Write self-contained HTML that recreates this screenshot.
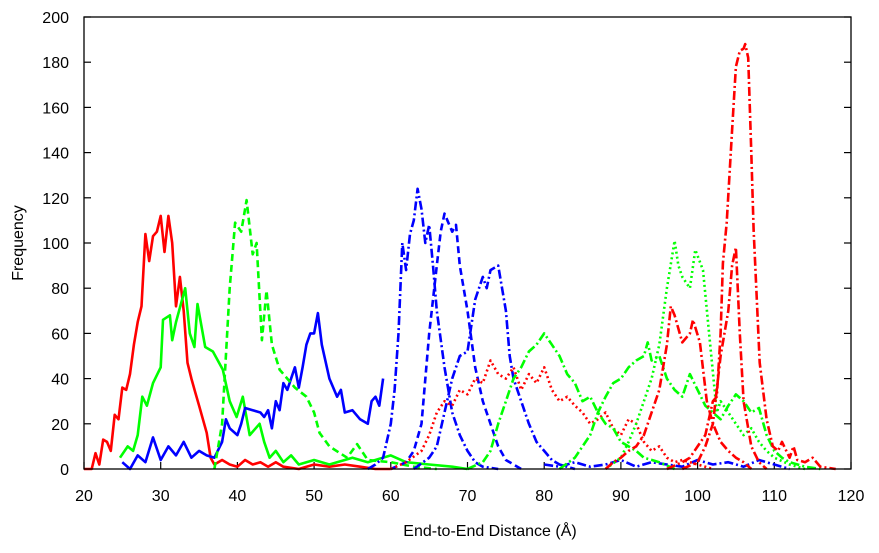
<!DOCTYPE html>
<html><head><meta charset="utf-8"><style>
html,body{margin:0;padding:0;background:#fff;}
svg text{font-family:"Liberation Sans",sans-serif;fill:#000;}
</style></head><body>
<svg id="chart" width="879" height="548" viewBox="0 0 879 548" xmlns="http://www.w3.org/2000/svg">
<g id="axes"></g>
<g id="series"></g>
<rect x="84" y="17" width="767" height="452" fill="none" stroke="#000" stroke-width="1.3"/>
<text x="490" y="536" font-size="16" text-anchor="middle">End-to-End Distance (Å)</text>
<text x="23" y="243" font-size="16" text-anchor="middle" transform="rotate(-90 23 243)">Frequency</text>
</svg>
<script>
const xTicks = [20,30,40,50,60,70,80,90,100,110,120];
const yTicks = [0,20,40,60,80,100,120,140,160,180,200];

const redSolidX = [20,21,21.5,22,22.5,23,23.5,24,24.5,25,25.5,26,26.5,27,27.5,28,28.5,29,29.5,30,30.5,31,31.5,32,32.5,33,33.5,34,34.5,35,36,36.5,37,38,39,40,41,42,43,44,45,46,48,50,52,54,56,58,60];
const redSolidY = [0,0,7,2,13,12,8,24,22,36,35,42,55,65,72,104,92,103,105,112,96,112,100,72,85,70,47,40,34,28,16,5,2,4,2,1,4,2,3,1,3,1,0,2,1,2,1,0,0];
const greenSolidX = [24.7,25.7,26.4,27,27.6,28.2,29,30,30.3,31.2,31.5,32,33.2,33.8,34.4,34.8,35.8,36.8,38.1,39,39.9,40.7,41.6,42.9,43.5,44.2,45,46,47,48,50,52,55,57,60,62,65,68,70];
const greenSolidY = [5,10,8,15,32,28,38,45,66,68,57,65,80,60,54,73,54,52,44,30,23,32,15,20,12,5,8,3,6,2,4,2,5,3,6,3,2,1,0];
const blueSolidX = [25,26,27,28,29,30,31,32,33,34,35,36,37,38,38.5,39,40,40.5,41,42,43,43.5,44,44.5,45,45.5,46,46.5,47,47.5,48,48.5,49,49.5,50,50.5,51,52,53,53.5,54,55,56,57,57.5,58,58.5,59];
const blueSolidY = [3,0,6,3,14,4,10,6,12,5,8,6,5,12,22,18,15,20,27,26,25,23,26,18,30,26,38,35,40,45,36,45,55,60,60,69,55,40,32,35,25,26,22,20,30,32,28,40];
const greenDotX = [37,38,39,39.7,40.5,41.2,42,42.5,43.2,43.8,44.5,45.5,46.5,47.5,49,50,50.7,52,54.3,55.6,57,60,63,66];
const greenDotY = [0,20,80,109,105,119,95,100,57,79,55,44,40,36,32,25,16,10,5,11,4,3,1,0];
const blueDashDotAX = [57,58,59,60,60.5,61,61.5,62,62.5,63,63.5,64,64.5,65,65.5,66,67,68,69,70,71,72,74];
const blueDashDotAY = [0,2,5,20,35,60,100,88,104,110,124,115,100,108,90,70,45,25,15,8,3,1,0];
const blueDashX = [60,62,63,64,65,66,66.5,67,68,68.5,69,70,71,72,73,74,75,77];
const blueDashY = [0,3,8,20,60,90,105,113,105,108,90,70,45,30,20,10,4,0];
const blueDashDotBX = [63,65,66,67,68,69,70,71,72,72.5,73,74,75,75.5,76,77,78,79,80,81,82,84];
const blueDashDotBY = [0,5,10,25,40,50,52,75,85,80,88,90,70,50,40,30,20,12,8,4,2,0];
const blueNoiseX = [80,82,84,86,88,90,92,94,96,98,100,102,104,106,108,110,112];
const blueNoiseY = [2,1,3,1,2,4,1,3,2,1,4,2,3,1,4,2,0];
const redDotX = [60,62,64,65,66,67,68,69,70,71,72,73,74,75,76,77,78,79,80,81,82,83,84,85,86,87,88,89,90,91,92,93,94,95,96,97,98,100,102];
const redDotY = [0,3,8,15,25,30,28,35,33,40,38,48,42,40,45,35,42,38,45,35,30,32,28,25,20,22,25,18,15,22,20,12,8,10,5,3,4,2,0];
const greenDashDotAX = [70,72,73,74,75,76,77,78,79,80,81,82,83,84,85,86,87,88,89,90,91,92,93,95,97];
const greenDashDotAY = [0,3,8,20,30,40,45,52,55,60,55,50,42,38,30,32,25,20,18,12,10,8,5,3,0];
const greenDashDotBX = [82,84,85,86,87,88,89,90,91,92,93,93.5,94,95,96,97,98,99,100,101,102,103,104,105,106,107,108,109,110,111,112,114,116];
const greenDashDotBY = [0,5,10,15,25,32,38,40,45,48,50,56,48,50,40,35,32,42,35,28,25,22,28,33,30,25,27,15,8,5,3,1,0];
const greenDot2X = [88,90,91,92,93,94,95,96,97,97.5,98,99,99.7,100.7,101.5,102.5,103,104,105,106,107,108,109,110,112,114];
const greenDot2Y = [0,5,12,20,30,40,55,80,101,90,85,80,97,88,60,25,30,25,20,15,18,12,8,5,2,0];
const redDashX = [88,89,90,91,92,93,94,95,96,96.5,97,98,99,99.4,100.3,101.2,102,103,104,105,106,107];
const redDashY = [0,3,5,8,10,15,25,35,55,72,68,56,60,66,56,30,20,12,8,5,3,0];
const redDashDot2X = [98,100,101,102,103,104,104.5,105,105.5,106,107,108,109];
const redDashDot2Y = [0,3,10,20,50,70,90,98,60,30,10,3,0];
const redDashDotX = [96,98,99,100,101,102,102.5,103,103.3,103.8,104.5,105,105.5,106,106.2,106.6,107,107.3,108.1,109,109.8,110.5,111,112,112.5,113,114,115,116,118];
const redDashDotY = [0,3,5,10,15,30,32,60,91,109,150,178,185,186,188,182,140,106,47,22,10,8,12,5,10,4,3,5,1,0];

const X0=84, X1=851, Y0=469, Y1=17;
function sx(v){return X0+(v-20)/(120-20)*(X1-X0);}
function sy(v){return Y0-(v-0)/(200-0)*(Y0-Y1);}
const NS='http://www.w3.org/2000/svg';
const axes=document.getElementById('axes');
xTicks.forEach(function(t){
  const l=document.createElementNS(NS,'line');
  l.setAttribute('x1',sx(t));l.setAttribute('x2',sx(t));l.setAttribute('y1',Y0);l.setAttribute('y2',Y0-7);
  l.setAttribute('stroke','#000');l.setAttribute('stroke-width','1.2');
  
  
  axes.appendChild(l);
  const tx=document.createElementNS(NS,'text');
  tx.setAttribute('x',sx(t));tx.setAttribute('y',501);tx.setAttribute('font-size','16');tx.setAttribute('text-anchor','middle');
  tx.textContent=t;
  
  
  axes.appendChild(tx);
});
yTicks.forEach(function(t){
  [[X0,X0+7],[X1,X1-7]].forEach(function(p){
    const l=document.createElementNS(NS,'line');
    l.setAttribute('x1',p[0]);l.setAttribute('x2',p[1]);l.setAttribute('y1',sy(t));l.setAttribute('y2',sy(t));
    l.setAttribute('stroke','#000');l.setAttribute('stroke-width','1.2');
    
    
    axes.appendChild(l);
  });
  const tx=document.createElementNS(NS,'text');
  tx.setAttribute('x',69);tx.setAttribute('y',sy(t)+6);tx.setAttribute('font-size','16');tx.setAttribute('text-anchor','end');
  tx.textContent=t;
  
  
  axes.appendChild(tx);
});
const DASH='7,4', DOT='2,3', DD='9,3,2,3';
const series=[
 ['red-solid',redSolidX,redSolidY,'#ff0000',''],
 ['green-solid',greenSolidX,greenSolidY,'#00ff00',''],
 ['blue-solid',blueSolidX,blueSolidY,'#0000ff',''],
 ['green-dashed',greenDotX,greenDotY,'#00ff00',DASH],
 ['blue-dash-dot-a',blueDashDotAX,blueDashDotAY,'#0000ff',DD],
 ['blue-dashed',blueDashX,blueDashY,'#0000ff',DASH],
 ['blue-dash-dot-b',blueDashDotBX,blueDashDotBY,'#0000ff',DD],
 ['blue-noise',blueNoiseX,blueNoiseY,'#0000ff',DD],
 ['red-dotted',redDotX,redDotY,'#ff0000',DOT],
 ['green-dash-dot-a',greenDashDotAX,greenDashDotAY,'#00ff00',DD],
 ['green-dash-dot-b',greenDashDotBX,greenDashDotBY,'#00ff00',DD],
 ['green-dotted',greenDot2X,greenDot2Y,'#00ff00',DOT],
 ['red-dashed',redDashX,redDashY,'#ff0000',DD],
 ['red-dash-dot-b',redDashDot2X,redDashDot2Y,'#ff0000',DD],
 ['red-dash-dot',redDashDotX,redDashDotY,'#ff0000',DD]
];
const sg=document.getElementById('series');
series.forEach(function(s){
  const xs=s[1], ys=s[2];
  let d='';
  for(let i=0;i<xs.length;i++){d+=(i?'L':'M')+sx(xs[i]).toFixed(1)+','+sy(ys[i]).toFixed(1);}
  const p=document.createElementNS(NS,'path');
  p.setAttribute('d',d);p.setAttribute('fill','none');p.setAttribute('stroke',s[3]);
  p.setAttribute('stroke-width','2.6');p.setAttribute('stroke-linejoin','round');
  if(s[4])p.setAttribute('stroke-dasharray',s[4]);
  
  
  sg.appendChild(p);
});
</script>
</body></html>
